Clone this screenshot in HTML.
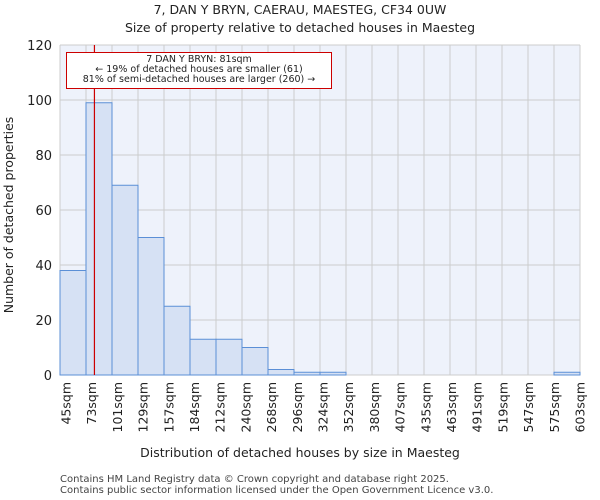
<!DOCTYPE html>
<html><head><meta charset="utf-8"><style>
body{margin:0;background:#fff;}
svg{display:block;font-family:"DejaVu Sans","Liberation Sans",sans-serif;}
</style></head><body>
<svg id="chart" width="600" height="500" viewBox="0 0 600 500">
<text x="300" y="14" text-anchor="middle" font-size="12.5" fill="#222">7, DAN Y BRYN, CAERAU, MAESTEG, CF34 0UW</text>
<text x="300" y="32" text-anchor="middle" font-size="12.5" fill="#222">Size of property relative to detached houses in Maesteg</text>
<text x="300" y="457" text-anchor="middle" font-size="12.5" fill="#222">Distribution of detached houses by size in Maesteg</text>
<text transform="translate(13,215) rotate(-90)" text-anchor="middle" font-size="12.5" fill="#222">Number of detached properties</text>
<text x="60" y="482" font-size="10" fill="#444">Contains HM Land Registry data © Crown copyright and database right 2025.</text>
<text x="60" y="493" font-size="10" fill="#444">Contains public sector information licensed under the Open Government Licence v3.0.</text>
</svg>
<script>
const categories=["45sqm","73sqm","101sqm","129sqm","157sqm","184sqm","212sqm","240sqm","268sqm","296sqm","324sqm","352sqm","380sqm","407sqm","435sqm","463sqm","491sqm","519sqm","547sqm","575sqm","603sqm"];
const counts=[38,99,69,50,25,13,13,10,2,1,1,0,0,0,0,0,0,0,0,1];
const yTicks=[0,20,40,60,80,100,120];
const edges=[45,73,101,129,157,184,212,240,268,296,324,352,380,407,435,463,491,519,547,575,603];
const propertySize=81;
const NS="http://www.w3.org/2000/svg";
const svg=document.getElementById('chart');
const L=60,R=580,T=45,B=375,yMax=120;
const bw=(R-L)/counts.length;
const x=i=>L+i*bw;
const y=v=>B-(v/yMax)*(B-T);
function mk(tag,attrs){const e=document.createElementNS(NS,tag);for(const k in attrs)e.setAttribute(k,attrs[k]);svg.appendChild(e);return e;}
const bg=mk('rect',{x:L,y:T,width:R-L,height:B-T,fill:'#eef2fb'});


yTicks.forEach(t=>{
 const g=mk('line',{x1:L,x2:R,y1:y(t),y2:y(t),stroke:'#cccccc','stroke-width':1});
 
 
 const tx=mk('text',{x:L-8,y:y(t)+5,'text-anchor':'end','font-size':13,fill:'#222'});
 tx.textContent=t;
 
 
});
for(let i=0;i<=counts.length;i++){
 const g=mk('line',{x1:x(i),x2:x(i),y1:T,y2:B,stroke:'#cccccc','stroke-width':1});
 
 
}
counts.forEach((c,i)=>{
 if(c<=0)return;
 const r=mk('rect',{x:x(i),y:y(c),width:bw,height:B-y(c),fill:'#d6e1f4',stroke:'#5b8fd6','stroke-width':1});
 
 
});
const lstep=(R-(L+6))/(categories.length-1);
categories.forEach((lbl,i)=>{
 const px=L+6+i*lstep+4.5;
 const tx=mk('text',{transform:`translate(${px},${B+7}) rotate(-90)`,'text-anchor':'end','font-size':12.5,fill:'#222'});
 tx.textContent=lbl;
 
 
});
const mi=edges.findIndex((e,i)=>propertySize>=e&&propertySize<edges[i+1]);
const mx=x(mi)+(propertySize-edges[mi])/(edges[mi+1]-edges[mi])*bw+1;
const ml=mk('line',{x1:mx,x2:mx,y1:T,y2:B,stroke:'#cc0000','stroke-width':1.2});


const box=mk('rect',{x:66.5,y:52.5,width:265,height:36,fill:'#fff',stroke:'#cc0000','stroke-width':1});


["7 DAN Y BRYN: 81sqm","← 19% of detached houses are smaller (61)","81% of semi-detached houses are larger (260) →"].forEach((s,k)=>{
 const t=mk('text',{x:199,y:62+k*10,'text-anchor':'middle','font-size':9.5,fill:'#222'});
 t.textContent=s;
 
 
});
</script>
</body></html>
